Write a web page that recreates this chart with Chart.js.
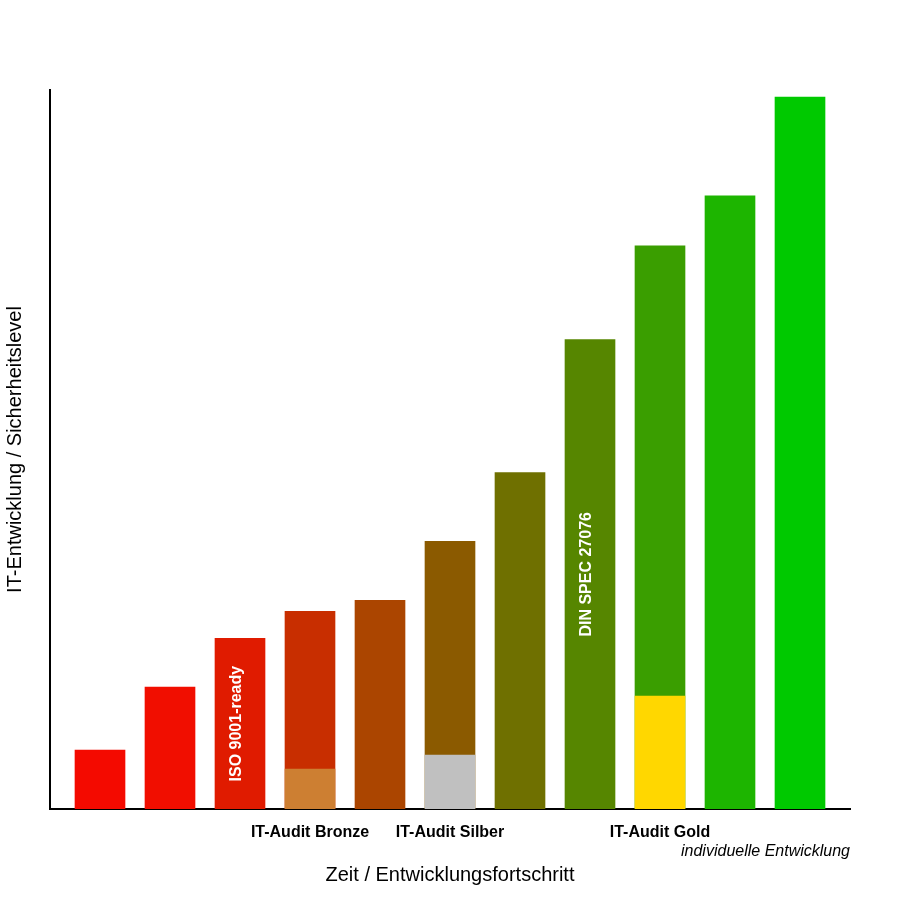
<!DOCTYPE html>
<html>
<head>
<meta charset="utf-8">
<script src="https://cdn.jsdelivr.net/npm/chart.js@4/dist/chart.umd.min.js"></script>
<style>
  html, body { margin: 0; padding: 0; background: #fff; }
  #wrap { width: 900px; height: 900px; }
</style>
</head>
<body>
<div id="wrap"><canvas id="myChart" width="900" height="900"></canvas></div>
<script>
// Werte (Einheit: Sicherheitslevel, Skala 0..72)
const stufen = [0, 1, 2, 3, 4, 5, 6, 7, 8, 9, 10];
const level = [5.9, 12.2, 17.1, 19.8, 20.9, 26.8, 33.7, 47.0, 56.4, 61.4, 71.3];
const auditSockel = [null, null, null, 4.0, null, 5.4, null, null, 11.3, null, null];
const kategorien = ['', '', '', 'IT-Audit Bronze', '', 'IT-Audit Silber', '', '', 'IT-Audit Gold', '', ''];
const balkenTexte = [null, null, 'ISO 9001-ready', null, null, null, null, 'DIN SPEC 27076', null, null, null];
const levelFarben = ['#f40a00', '#f10e00', '#e01b00', '#c82e00', '#ab4500', '#8b5a00',
                     '#6f7000', '#568600', '#3a9e00', '#1db500', '#00c900'];
const auditFarben = [null, null, null, '#cd7f32', null, '#c0c0c0', null, null, '#ffd700', null, null];
const fussText = 'individuelle Entwicklung';

const schrift = 'Helvetica, "Liberation Sans", Arial, sans-serif';

// Texte in den Balken und rechts unter der Achse
const textPlugin = {
    id: 'textPlugin',
    afterDatasetsDraw(chart) {
        const ctx = chart.ctx;
        const meta = chart.getDatasetMeta(1);
        ctx.save();
        ctx.fillStyle = '#ffffff';
        ctx.font = 'bold 16px ' + schrift;
        ctx.textAlign = 'center';
        ctx.textBaseline = 'middle';
        balkenTexte.forEach(function (txt, i) {
            if (!txt) return;
            const bar = meta.data[i];
            ctx.save();
            ctx.translate(bar.x - 3, (bar.y + bar.base) / 2);
            ctx.rotate(-Math.PI / 2);
            ctx.fillText(txt, 0, 0);
            ctx.restore();
        });
        ctx.restore();
    },
    afterDraw(chart) {
        const ctx = chart.ctx;
        ctx.save();
        ctx.fillStyle = '#000000';
        ctx.font = 'italic 16px ' + schrift;
        ctx.textAlign = 'right';
        ctx.textBaseline = 'middle';
        ctx.fillText(fussText, chart.chartArea.right, chart.chartArea.bottom + 43);
        ctx.restore();
    }
};

const ctx = document.getElementById('myChart').getContext('2d');
const myChart = new Chart(ctx, {
    type: 'bar',
    data: {
        datasets: [
            {
                label: 'Audit',
                data: stufen.map((s, i) => ({ x: s, y: auditSockel[i] })),
                backgroundColor: auditFarben,
                barThickness: 50,
                grouped: false,
                order: 0
            },
            {
                label: 'Level',
                data: stufen.map((s, i) => ({ x: s, y: level[i] })),
                backgroundColor: levelFarben,
                barThickness: 50,
                grouped: false,
                order: 1
            }
        ]
    },
    options: {
        responsive: false,
        animation: false,
        layout: {
            padding: { top: 90, right: 50, bottom: 13, left: 3 }
        },
        plugins: {
            legend: { display: false },
            tooltip: { enabled: false }
        },
        scales: {
            x: {
                type: 'linear',
                offset: false,
                min: -0.7143,
                max: 10.7143,
                afterBuildTicks: function (scale) {
                    scale.ticks = stufen.map(v => ({ value: v }));
                },
                grid: { display: false, drawTicks: false },
                border: { display: true, color: '#000', width: 2 },
                ticks: {
                    autoSkip: false,
                    maxRotation: 0,
                    minRotation: 0,
                    padding: 14,
                    color: '#000',
                    font: { family: schrift, size: 16, weight: 'bold' },
                    callback: function (value) {
                        return kategorien[value] || '';
                    }
                },
                title: {
                    display: true,
                    text: 'Zeit / Entwicklungsfortschritt',
                    color: '#000',
                    font: { family: schrift, size: 20 },
                    padding: { top: 6.8, bottom: 0 }
                }
            },
            y: {
                min: 0,
                max: 72,
                grid: { display: false, drawTicks: false },
                border: { display: true, color: '#000', width: 2 },
                ticks: { display: false },
                title: {
                    display: true,
                    text: 'IT-Entwicklung / Sicherheitslevel',
                    color: '#000',
                    font: { family: schrift, size: 20 },
                    padding: { top: 0, bottom: 23 }
                }
            }
        }
    },
    plugins: [textPlugin]
});
</script>
</body>
</html>
